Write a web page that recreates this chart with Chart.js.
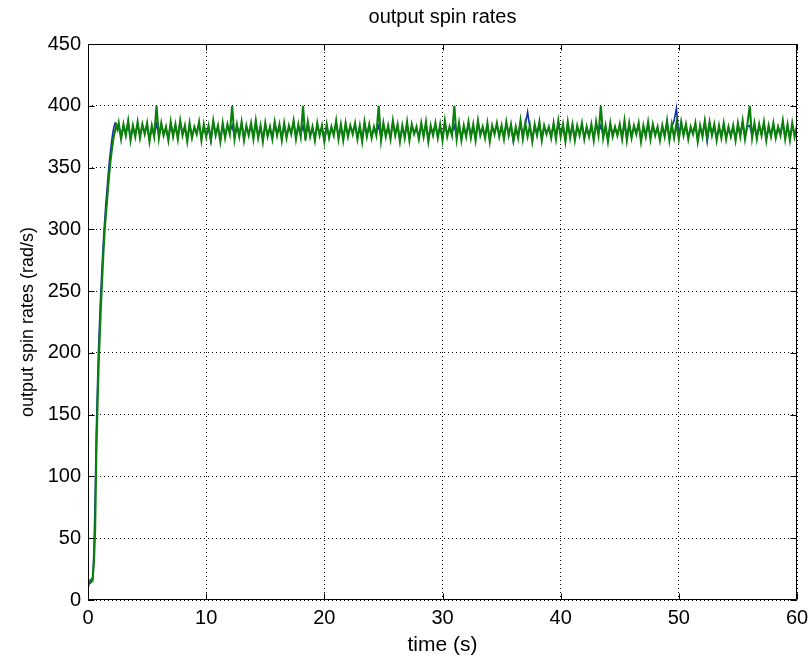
<!DOCTYPE html>
<html>
<head>
<meta charset="utf-8">
<script src="https://cdn.jsdelivr.net/npm/chart.js@4/dist/chart.umd.min.js"></script>
<style>
  html, body { margin: 0; padding: 0; background: #fff; }
  #wrap { width: 810px; height: 661px; position: relative; }
</style>
</head>
<body>
<div id="wrap"><canvas id="c" width="810" height="661"></canvas></div>
<script>
const chartTitle = 'output spin rates';
const xTitle = 'time (s)';
const yTitle = 'output spin rates (rad/s)';
const xTicks = [0, 10, 20, 30, 40, 50, 60];
const yTicks = [0, 50, 100, 150, 200, 250, 300, 350, 400, 450];

const time = [
 0,0.1,0.2,0.3,0.4,0.5,0.6,0.7,0.8,0.9,1,1.1,1.2,1.3,1.4,1.5,1.6,1.7,1.8,1.9,2,2.1,2.2,2.3,2.4,2.5,
 2.6,2.8,
 3,3.2,3.4,3.6,3.8, 4,4.2,4.4,4.6,4.8, 5,5.2,5.4,5.6,5.8, 6,6.2,6.4,6.6,6.8, 7,7.2,7.4,7.6,7.8,
 8,8.2,8.4,8.6,8.8, 9,9.2,9.4,9.6,9.8, 10,10.2,10.4,10.6,10.8, 11,11.2,11.4,11.6,11.8, 12,12.2,12.4,12.6,12.8,
 13,13.2,13.4,13.6,13.8, 14,14.2,14.4,14.6,14.8, 15,15.2,15.4,15.6,15.8, 16,16.2,16.4,16.6,16.8, 17,17.2,17.4,17.6,17.8,
 18,18.2,18.4,18.6,18.8, 19,19.2,19.4,19.6,19.8, 20,20.2,20.4,20.6,20.8, 21,21.2,21.4,21.6,21.8, 22,22.2,22.4,22.6,22.8,
 23,23.2,23.4,23.6,23.8, 24,24.2,24.4,24.6,24.8, 25,25.2,25.4,25.6,25.8, 26,26.2,26.4,26.6,26.8, 27,27.2,27.4,27.6,27.8,
 28,28.2,28.4,28.6,28.8, 29,29.2,29.4,29.6,29.8, 30,30.2,30.4,30.6,30.8, 31,31.2,31.4,31.6,31.8, 32,32.2,32.4,32.6,32.8,
 33,33.2,33.4,33.6,33.8, 34,34.2,34.4,34.6,34.8, 35,35.2,35.4,35.6,35.8, 36,36.2,36.4,36.6,36.8, 37,37.2,37.4,37.6,37.8,
 38,38.2,38.4,38.6,38.8, 39,39.2,39.4,39.6,39.8, 40,40.2,40.4,40.6,40.8, 41,41.2,41.4,41.6,41.8, 42,42.2,42.4,42.6,42.8,
 43,43.2,43.4,43.6,43.8, 44,44.2,44.4,44.6,44.8, 45,45.2,45.4,45.6,45.8, 46,46.2,46.4,46.6,46.8, 47,47.2,47.4,47.6,47.8,
 48,48.2,48.4,48.6,48.8, 49,49.2,49.4,49.6,49.8, 50,50.2,50.4,50.6,50.8, 51,51.2,51.4,51.6,51.8, 52,52.2,52.4,52.6,52.8,
 53,53.2,53.4,53.6,53.8, 54,54.2,54.4,54.6,54.8, 55,55.2,55.4,55.6,55.8, 56,56.2,56.4,56.6,56.8, 57,57.2,57.4,57.6,57.8,
 58,58.2,58.4,58.6,58.8, 59,59.2,59.4,59.6,59.8, 60
];

// green trace (drawn on top)
const spinRateGreen = [
 10,14,16,15,18,30,55,115,155,190,215,240,260,280,297,310,322,334,345,355,363,370,376,380,384,381,
 386,373,385,376,388,372,384,375,387,374,
 385,377,386,371,384,375,400,374,386,376,
 383,372,387,375,385,373,388,376,384,371,
 386,374,383,377,387,372,385,375,384,373,
 388,376,384,371,386,374,385,377,400,373,
 385,375,387,372,384,376,386,373,388,374,
 384,371,386,375,383,373,387,376,385,372,
 386,374,384,377,388,373,385,375,400,372,
 387,375,383,372,386,376,384,371,385,374,
 383,376,388,373,385,372,386,375,384,377,
 386,373,384,371,387,375,385,374,383,376,
 400,372,386,375,384,373,388,376,385,371,
 384,374,387,372,385,377,383,373,386,375,
 387,371,384,376,386,374,385,372,388,375,
 383,376,400,373,386,372,384,375,387,374,
 385,372,388,376,383,374,386,371,384,377,
 386,375,384,373,387,376,385,372,383,374,
 388,373,386,375,384,371,385,376,387,372,
 384,377,383,374,386,373,388,375,385,371,
 387,374,385,372,384,376,386,373,383,375,
 385,372,387,376,400,374,384,371,386,375,
 383,376,385,373,388,372,386,374,384,377,
 386,371,384,375,387,373,385,376,383,372,
 384,375,388,372,385,374,386,373,387,376,
 385,373,383,377,386,371,384,375,388,374,
 387,376,385,372,384,374,386,373,383,375,
 384,372,386,375,388,373,385,400,374,386,
 373,385,376,387,372,384,375,386,374,383,
 376,388,373,385,372,386,375,384
];

// blue trace (drawn underneath)
const spinRateBlue = [
 12,15,14,17,16,40,80,135,172,205,230,252,272,290,305,319,331,343,354,363,371,378,383,386,385,382,
 384,375,383,378,386,374,382,377,385,376,
 383,379,384,373,382,377,385,376,384,378,
 381,374,385,377,383,375,386,378,382,373,
 384,376,381,379,385,374,383,377,382,371,
 386,378,382,373,384,376,383,379,384,375,
 383,377,385,374,382,378,384,375,386,376,
 382,373,384,377,381,375,385,378,383,374,
 384,376,382,379,386,375,383,377,384,374,
 385,377,381,374,384,378,382,372,383,376,
 381,378,386,375,383,374,384,377,382,379,
 384,375,382,373,385,377,383,376,381,378,
 384,374,384,377,382,375,386,378,383,373,
 382,376,385,374,383,379,381,375,384,377,
 385,373,382,378,384,376,383,374,386,377,
 381,378,384,375,384,374,382,377,385,376,
 383,374,386,378,381,376,384,373,382,379,
 384,377,382,375,385,378,383,371,381,376,
 386,375,384,395,382,373,383,378,385,374,
 382,379,381,376,384,375,386,377,383,373,
 385,376,383,374,382,378,384,375,381,377,
 383,374,385,378,384,376,382,373,384,377,
 381,378,383,375,386,374,384,376,382,379,
 384,373,382,377,385,375,383,378,381,374,
 382,377,386,374,383,388,398,375,385,378,
 383,375,381,379,384,373,382,377,386,371,
 385,378,383,374,382,376,384,375,381,377,
 382,374,384,377,386,375,383,384,376,384,
 375,383,378,385,374,382,377,384,376,381,
 378,386,375,383,374,384,377,382
];

const FONT = "'Liberation Sans', Arial, Helvetica, sans-serif";
Chart.defaults.font.family = FONT;
Chart.defaults.color = '#000';

const toPts = (vals) => vals.map((v, i) => ({ x: time[i], y: v }));

const frameAndTitle = {
  id: 'frameAndTitle',
  afterDatasetsDraw(chart) {
    const { ctx, chartArea: a, scales: { x, y } } = chart;
    ctx.save();
    ctx.strokeStyle = '#000';
    ctx.lineWidth = 1;
    const L = Math.round(a.left) + 0.5, R = Math.round(a.right) - 0.5;
    const T = Math.round(a.top) + 0.5, B = Math.round(a.bottom) - 0.5;
    ctx.beginPath();
    ctx.rect(L, T, R - L, B - T);
    const tl = 6;
    xTicks.forEach(v => {
      const px = Math.round(x.getPixelForValue(v)) + 0.5;
      ctx.moveTo(px, B); ctx.lineTo(px, B - tl);
      ctx.moveTo(px, T); ctx.lineTo(px, T + tl);
    });
    yTicks.forEach(v => {
      const py = Math.round(y.getPixelForValue(v)) + 0.5;
      ctx.moveTo(L, py); ctx.lineTo(L + tl, py);
      ctx.moveTo(R, py); ctx.lineTo(R - tl, py);
    });
    ctx.stroke();
    ctx.fillStyle = '#000';
    ctx.font = '20px ' + FONT;
    ctx.textAlign = 'center';
    ctx.textBaseline = 'middle';
    ctx.fillText(chartTitle, (a.left + a.right) / 2, 17);
    ctx.restore();
  }
};

new Chart(document.getElementById('c'), {
  type: 'line',
  data: {
    datasets: [
      { label: 'green', data: toPts(spinRateGreen), borderColor: '#0b800b', borderWidth: 2.1, pointRadius: 0, tension: 0, order: 1 },
      { label: 'blue', data: toPts(spinRateBlue), borderColor: '#1530a0', borderWidth: 1.6, pointRadius: 0, tension: 0, order: 2 }
    ]
  },
  options: {
    responsive: false,
    animation: false,
    events: [],
    layout: { padding: { left: 0, right: 13, top: 44, bottom: 0 } },
    plugins: { legend: { display: false }, tooltip: { enabled: false }, title: { display: false } },
    scales: {
      x: {
        type: 'linear', min: 0, max: 60,
        afterBuildTicks: (s) => { s.ticks = xTicks.map(v => ({ value: v })); },
        afterFit: (s) => { s.height = 61; s.paddingLeft = 0; s.paddingRight = 0; },
        ticks: { font: { size: 20 }, padding: 6, maxRotation: 0 },
        grid: { color: '#000', lineWidth: 1, drawTicks: false },
        border: { display: false, dash: [1, 3] },
        title: { display: true, text: xTitle, font: { size: 21 }, padding: { top: 0, bottom: 3 } }
      },
      y: {
        type: 'linear', min: 0, max: 450,
        afterBuildTicks: (s) => { s.ticks = yTicks.map(v => ({ value: v })); },
        afterFit: (s) => { s.width = 88; s.paddingTop = 0; s.paddingBottom = 0; },
        ticks: { font: { size: 20 }, padding: 7 },
        grid: { color: '#000', lineWidth: 1, drawTicks: false },
        border: { display: false, dash: [1, 3] },
        title: { display: true, text: yTitle, font: { size: 18 }, padding: { top: 17, bottom: 0 } }
      }
    }
  },
  plugins: [frameAndTitle]
});
</script>
</body>
</html>
